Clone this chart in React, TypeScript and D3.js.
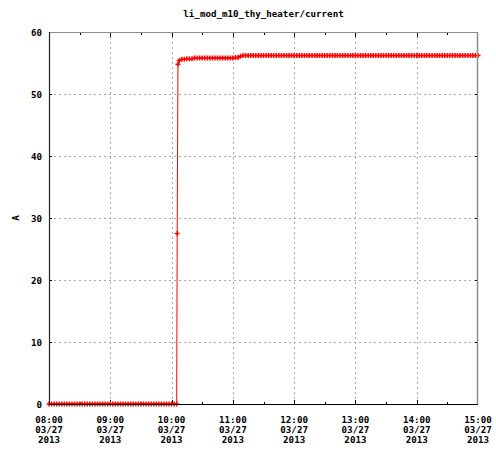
import React from "react";
import * as d3 from "d3";

const TITLE = "li_mod_m10_thy_heater/current";
const Y_LABEL = "A";
const START = "2013-03-27T08:00:00";
const END = "2013-03-27T15:00:00";
const STEP_MIN = 2.5;
const yTicks = [0, 10, 20, 30, 40, 50, 60];
const xTickHours = [8, 9, 10, 11, 12, 13, 14, 15];

// regular samples every 2.5 minutes from 08:00
const sampleValues = [
  0, 0, 0, 0, 0, 0, 0, 0, 0, 0,
  0, 0, 0, 0, 0, 0, 0, 0, 0, 0,
  0, 0, 0, 0, 0, 0, 0, 0, 0, 0,
  0, 0, 0, 0, 0, 0, 0, 0, 0, 0,
  0, 0, 0, 0, 0, 0, 0, 0, 0, 0,
  0,
  55.4, 55.6, 55.6, 55.7, 55.7, 55.7, 55.8, 55.8, 55.8, 55.8,
  55.8, 55.8, 55.8, 55.8, 55.8, 55.8, 55.8, 55.8, 55.8, 55.8,
  55.8, 55.8, 55.9, 55.9,
  56.1, 56.2, 56.2, 56.2, 56.2, 56.2, 56.2, 56.2, 56.2, 56.2,
  56.2, 56.2, 56.2, 56.2, 56.2, 56.2, 56.2, 56.2, 56.2, 56.2,
  56.2, 56.2, 56.2, 56.2, 56.2, 56.2, 56.2, 56.2, 56.2, 56.2,
  56.2, 56.2, 56.2, 56.2, 56.2, 56.2, 56.2, 56.2, 56.2, 56.2,
  56.2, 56.2, 56.2, 56.2, 56.2, 56.2, 56.2, 56.2, 56.2, 56.2,
  56.2, 56.2, 56.2, 56.2, 56.2, 56.2, 56.2, 56.2, 56.2, 56.2,
  56.2, 56.2, 56.2, 56.2, 56.2, 56.2, 56.2, 56.2, 56.2, 56.2,
  56.2, 56.2, 56.2, 56.2, 56.2, 56.2, 56.2, 56.2, 56.2, 56.2,
  56.2, 56.2, 56.2, 56.2, 56.2, 56.2, 56.2, 56.2, 56.2, 56.2,
  56.2, 56.2, 56.2, 56.2,
];

// extra samples during the jump
const jumpTimes = ["2013-03-27T10:05:30", "2013-03-27T10:06:15"];
const jumpValues = [27.5, 54.8];

const W = 496;
const H = 450;
const L = 49;
const R = 478;
const T = 32;
const B = 404;
const FONT = "'DejaVu Sans Mono', 'Liberation Mono', monospace";
const RED = "#ff0000";

export default function App() {
  const start = new Date(START);
  const end = new Date(END);
  const x = d3.scaleTime().domain([start, end]).range([L, R]);
  const y = d3.scaleLinear().domain([0, 60]).range([B, T]);

  const pts: { t: Date; v: number }[] = sampleValues.map((v, i) => ({
    t: new Date(start.getTime() + i * STEP_MIN * 60000),
    v,
  }));
  jumpTimes.forEach((s, i) => pts.push({ t: new Date(s), v: jumpValues[i] }));
  pts.sort((a, b) => a.t.getTime() - b.t.getTime());

  const line = d3
    .line<{ t: Date; v: number }>()
    .x((d) => x(d.t))
    .y((d) => y(d.v));

  const hourDate = (h: number) => {
    const d = new Date(start);
    d.setHours(h, 0, 0, 0);
    return d;
  };
  const halfDates = xTickHours.slice(0, -1).map((h) => {
    const d = new Date(start);
    d.setHours(h, 30, 0, 0);
    return d;
  });
  const pad = (n: number) => String(n).padStart(2, "0");
  const m = 2.5;

  return (
    <svg
      width={W}
      height={H}
      style={{ position: "absolute", left: 0, top: 0, background: "#fff" }}
      fontFamily={FONT}
      fontWeight="bold"
      fontSize={9.2}
    >
      <rect x={0} y={0} width={W} height={H} fill="#fff" />
      {/* grid */}
      {xTickHours.slice(1, -1).map((h) => (
        <line
          key={"gx" + h}
          x1={Math.round(x(hourDate(h))) + 0.5}
          x2={Math.round(x(hourDate(h))) + 0.5}
          y1={T}
          y2={B}
          stroke="#a8a8a8"
          strokeDasharray="2,3"
        />
      ))}
      {yTicks.slice(1, -1).map((v) => (
        <line
          key={"gy" + v}
          x1={L}
          x2={R}
          y1={Math.round(y(v)) + 0.5}
          y2={Math.round(y(v)) + 0.5}
          stroke="#a8a8a8"
          strokeDasharray="2,3"
        />
      ))}
      {/* ticks */}
      {xTickHours.slice(1, -1).map((h) => {
        const xx = Math.round(x(hourDate(h))) + 0.5;
        return (
          <g key={"tx" + h} stroke="#000">
            <line x1={xx} x2={xx} y1={B} y2={B - 4} />
            <line x1={xx} x2={xx} y1={T} y2={T + 5} />
          </g>
        );
      })}
      {halfDates.map((d, i) => {
        const xx = Math.round(x(d)) + 0.5;
        return (
          <g key={"hx" + i} stroke="#000">
            <line x1={xx} x2={xx} y1={B} y2={B - 2} />
            <line x1={xx} x2={xx} y1={T} y2={T + 3} />
          </g>
        );
      })}
      {yTicks.slice(1, -1).map((v) => {
        const yy = Math.round(y(v)) + 0.5;
        return (
          <g key={"ty" + v} stroke="#000">
            <line x1={L} x2={L + 3} y1={yy} y2={yy} />
            <line x1={R - 3} x2={R} y1={yy} y2={yy} />
          </g>
        );
      })}
      {/* data */}
      <path d={line(pts) || ""} fill="none" stroke={RED} strokeWidth={1} />
      <g stroke={RED} strokeWidth={1.5}>
        {pts.map((p, i) => {
          const px = x(p.t);
          const py = y(p.v);
          return (
            <path
              key={i}
              d={`M${px - m},${py}H${px + m}M${px},${py - m}V${py + m}`}
            />
          );
        })}
      </g>
      {/* frame */}
      <line x1={L} x2={R} y1={T + 0.5} y2={T + 0.5} stroke="#8c8c8c" />
      <line x1={R - 0.5} x2={R - 0.5} y1={T} y2={B} stroke="#8c8c8c" strokeWidth={1.5} />
      <line x1={L + 0.5} x2={L + 0.5} y1={T} y2={B} stroke="#222" strokeWidth={1.2} />
      <line x1={L} x2={R} y1={B + 0.5} y2={B + 0.5} stroke="#000" strokeWidth={1.2} />
      {/* y labels */}
      {yTicks.map((v) => (
        <text key={"yl" + v} x={42} y={y(v) + 3.5} textAnchor="end" fill="#000">
          {v}
        </text>
      ))}
      {/* x labels */}
      {xTickHours.map((h) => {
        const xx = x(hourDate(h));
        return (
          <text key={"xl" + h} x={xx} textAnchor="middle" fill="#000">
            <tspan x={xx} y={422.5}>{`${pad(h)}:00`}</tspan>
            <tspan x={xx} y={432.5}>{`${pad(start.getMonth() + 1)}/${pad(start.getDate())}`}</tspan>
            <tspan x={xx} y={442.5}>{start.getFullYear()}</tspan>
          </text>
        );
      })}
      <text x={(L + R) / 2} y={16.5} textAnchor="middle" fill="#000">
        {TITLE}
      </text>
      <text
        transform={`translate(19,${(T + B) / 2}) rotate(-90)`}
        textAnchor="middle"
        fill="#000"
      >
        {Y_LABEL}
      </text>
    </svg>
  );
}
